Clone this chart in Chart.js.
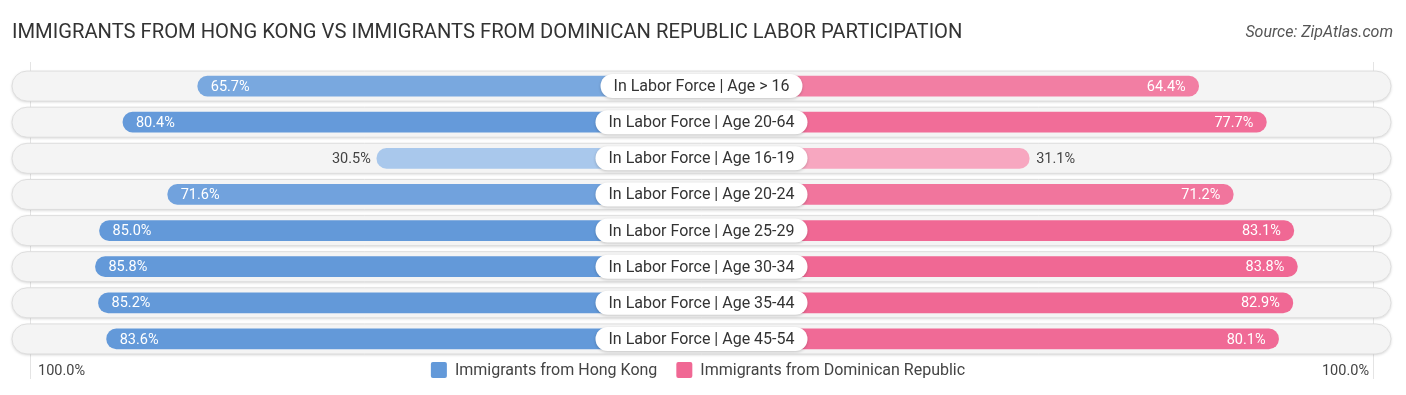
<!DOCTYPE html>
<html>
<head>
<meta charset="utf-8">
<script src="https://cdn.jsdelivr.net/npm/chart.js@4.4.1/dist/chart.umd.min.js"></script>
<style>
  html, body { margin: 0; padding: 0; background: #ffffff; }
  #wrap { width: 1406px; height: 395px; position: relative; }
</style>
</head>
<body>
<div id="wrap"><canvas id="grafico" width="1406" height="395"></canvas></div>
<script>
const titulo = 'IMMIGRANTS FROM HONG KONG VS IMMIGRANTS FROM DOMINICAN REPUBLIC LABOR PARTICIPATION';
const fonte = 'Source: ZipAtlas.com';
const categorias = [
  'In Labor Force | Age > 16',
  'In Labor Force | Age 20-64',
  'In Labor Force | Age 16-19',
  'In Labor Force | Age 20-24',
  'In Labor Force | Age 25-29',
  'In Labor Force | Age 30-34',
  'In Labor Force | Age 35-44',
  'In Labor Force | Age 45-54'
];
const hongKong = [65.7, 80.4, 30.5, 71.6, 85.0, 85.8, 85.2, 83.6];
const dominicana = [64.4, 77.7, 31.1, 71.2, 83.1, 83.8, 82.9, 80.1];
const nomesSeries = ['Immigrants from Hong Kong', 'Immigrants from Dominican Republic'];
const rotuloEixo = ['100.0%', '100.0%'];

// meia largura do espaço central (em unidades de %)
const GAP = 33.3;
const FONTE = 'Roboto, "Noto Sans", sans-serif';

function misturar(c1, c2, t) {
  t = Math.max(0, Math.min(1, t));
  const r = Math.round(c1[0] + (c2[0] - c1[0]) * t);
  const g = Math.round(c1[1] + (c2[1] - c1[1]) * t);
  const b = Math.round(c1[2] + (c2[2] - c1[2]) * t);
  return `rgb(${r},${g},${b})`;
}
const azulClaro = [170, 200, 236], azulForte = [99, 153, 217];
const rosaClaro = [247, 168, 193], rosaForte = [240, 104, 148];
function corAzul(v) { return misturar(azulClaro, azulForte, (v - 30) / 52); }
function corRosa(v) { return misturar(rosaClaro, rosaForte, (v - 30) / 52); }

function pilula(ctx, x, y, w, h, r) {
  ctx.beginPath();
  ctx.moveTo(x + r, y);
  ctx.lineTo(x + w - r, y);
  ctx.arc(x + w - r, y + r, r, -Math.PI / 2, Math.PI / 2);
  ctx.lineTo(x + r, y + h);
  ctx.arc(x + r, y + r, r, Math.PI / 2, Math.PI * 1.5);
  ctx.closePath();
}

const pluginFundo = {
  id: 'fundo',
  beforeDatasetsDraw(chart) {
    const ctx = chart.ctx;
    const area = chart.chartArea;
    const x = chart.scales.x;
    const y = chart.scales.y;
    ctx.save();
    // linhas verticais claras nas pontas
    ctx.strokeStyle = '#e4e4e4';
    ctx.lineWidth = 1;
    [-132, 132].forEach(v => {
      const px = Math.round(x.getPixelForValue(v)) + 0.5;
      ctx.beginPath();
      ctx.moveTo(px, area.top - 6);
      ctx.lineTo(px, area.bottom + 22);
      ctx.stroke();
    });
    categorias.forEach((c, i) => {
      const cy = y.getPixelForValue(i);
      const h = 30;
      ctx.save();
      ctx.shadowColor = 'rgba(0,0,0,0.18)';
      ctx.shadowBlur = 3;
      ctx.shadowOffsetY = 1;
      pilula(ctx, area.left, cy - h / 2, area.right - area.left, h, h / 2);
      ctx.fillStyle = '#f4f4f4';
      ctx.fill();
      ctx.restore();
      pilula(ctx, area.left, cy - h / 2, area.right - area.left, h, h / 2);
      ctx.strokeStyle = '#dedede';
      ctx.lineWidth = 1;
      ctx.stroke();
    });
    ctx.restore();
  }
};

const pluginRotulos = {
  id: 'rotulos',
  afterDatasetsDraw(chart) {
    const ctx = chart.ctx;
    const x = chart.scales.x;
    const y = chart.scales.y;
    ctx.save();
    categorias.forEach((c, i) => {
      const cy = y.getPixelForValue(i);
      // valores
      ctx.font = '14.5px ' + FONTE;
      ctx.textBaseline = 'middle';
      const vE = hongKong[i];
      const xE = x.getPixelForValue(-GAP - vE);
      if (vE > 45) {
        ctx.fillStyle = '#ffffff';
        ctx.textAlign = 'left';
        ctx.fillText(vE.toFixed(1) + '%', xE + 13, cy + 1);
      } else {
        ctx.fillStyle = '#444444';
        ctx.textAlign = 'right';
        ctx.fillText(vE.toFixed(1) + '%', xE - 6, cy + 1);
      }
      const vD = dominicana[i];
      const xD = x.getPixelForValue(GAP + vD);
      if (vD > 45) {
        ctx.fillStyle = '#ffffff';
        ctx.textAlign = 'right';
        ctx.fillText(vD.toFixed(1) + '%', xD - 13, cy + 1);
      } else {
        ctx.fillStyle = '#444444';
        ctx.textAlign = 'left';
        ctx.fillText(vD.toFixed(1) + '%', xD + 7, cy + 1);
      }
      // rótulo central
      ctx.font = '16px ' + FONTE;
      const w = ctx.measureText(c).width + 26;
      const h = 24;
      const cx = x.getPixelForValue(0);
      ctx.save();
      ctx.shadowColor = 'rgba(0,0,0,0.2)';
      ctx.shadowBlur = 3;
      ctx.shadowOffsetY = 1;
      pilula(ctx, cx - w / 2, cy - h / 2, w, h, h / 2);
      ctx.fillStyle = '#ffffff';
      ctx.fill();
      ctx.restore();
      ctx.fillStyle = '#333333';
      ctx.textAlign = 'center';
      ctx.fillText(c, cx, cy + 1);
    });
    ctx.restore();
  },
  afterDraw(chart) {
    const ctx = chart.ctx;
    ctx.save();
    ctx.textBaseline = 'middle';
    // título e fonte
    ctx.font = '20.2px ' + FONTE;
    ctx.fillStyle = '#333333';
    ctx.textAlign = 'left';
    ctx.fillText(titulo, 12, 33);
    ctx.font = 'italic 16px ' + FONTE;
    ctx.fillStyle = '#555555';
    ctx.textAlign = 'right';
    ctx.fillText(fonte, 1393, 33);
    // eixo
    ctx.font = '14.5px ' + FONTE;
    ctx.fillStyle = '#444444';
    ctx.textAlign = 'left';
    ctx.fillText(rotuloEixo[0], 38, 371);
    ctx.textAlign = 'right';
    ctx.fillText(rotuloEixo[1], 1369, 371);
    // legenda
    ctx.font = '16px ' + FONTE;
    const cores = [azulForte, rosaForte].map(c => `rgb(${c[0]},${c[1]},${c[2]})`);
    const larguras = nomesSeries.map(n => ctx.measureText(n).width);
    const total = 16 + 8 + larguras[0] + 19 + 16 + 8 + larguras[1];
    let lx = 698 - total / 2;
    nomesSeries.forEach((n, i) => {
      ctx.fillStyle = cores[i];
      ctx.beginPath();
      ctx.roundRect(lx, 362, 16, 16, 2);
      ctx.fill();
      ctx.fillStyle = '#444444';
      ctx.textAlign = 'left';
      ctx.fillText(n, lx + 24, 371);
      lx += 24 + larguras[i] + 19;
    });
    ctx.restore();
  }
};

const ctx = document.getElementById('grafico').getContext('2d');
new Chart(ctx, {
  type: 'bar',
  data: {
    labels: categorias,
    datasets: [
      {
        label: nomesSeries[0],
        data: hongKong.map(v => [-GAP - v, 0]),
        backgroundColor: hongKong.map(corAzul),
        grouped: false,
        barThickness: 20,
        borderRadius: 10,
        borderSkipped: false
      },
      {
        label: nomesSeries[1],
        data: dominicana.map(v => [0, GAP + v]),
        backgroundColor: dominicana.map(corRosa),
        grouped: false,
        barThickness: 20,
        borderRadius: 10,
        borderSkipped: false
      }
    ]
  },
  options: {
    indexAxis: 'y',
    responsive: false,
    animation: false,
    devicePixelRatio: 1,
    layout: { padding: { left: 12, right: 15, top: 68, bottom: 38 } },
    scales: {
      x: { type: 'linear', min: -135.5, max: 135.5, display: false },
      y: { display: false }
    },
    plugins: {
      legend: { display: false },
      tooltip: { enabled: false }
    }
  },
  plugins: [pluginFundo, pluginRotulos]
});
</script>
</body>
</html>
